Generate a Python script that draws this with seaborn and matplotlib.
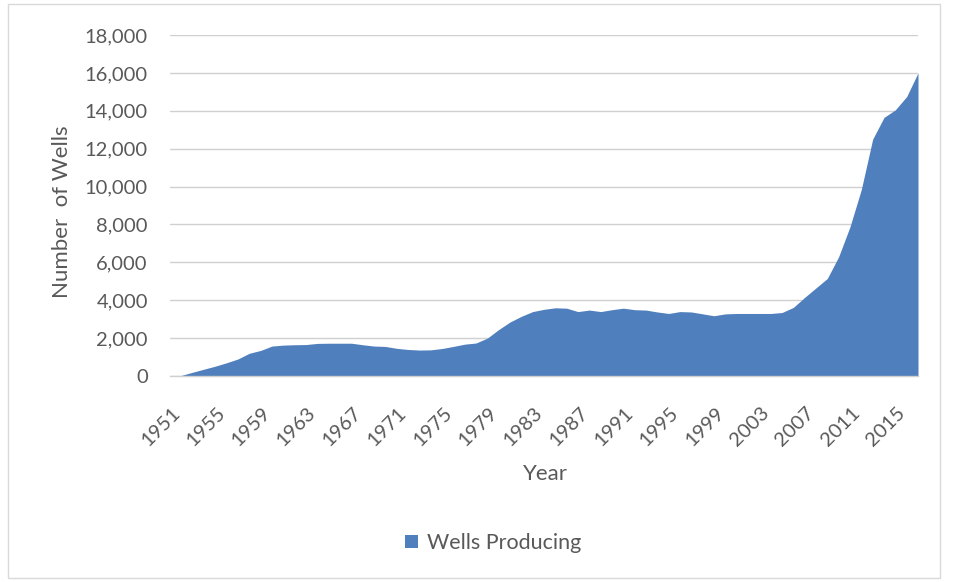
import matplotlib
matplotlib.use("Agg")
import matplotlib.pyplot as plt
from matplotlib.patches import Patch, Rectangle
from matplotlib.transforms import ScaledTranslation
from matplotlib.ticker import FuncFormatter
import seaborn as sns
import pandas as pd

# Producing wells per year
years = list(range(1951, 2018))
wells = [
    0, 30, 200, 360, 520, 700, 900, 1200, 1350, 1580,
    1630, 1650, 1660, 1720, 1730, 1730, 1730, 1650, 1580, 1560,
    1460, 1400, 1370, 1380, 1450, 1560, 1680, 1740, 2000, 2450,
    2850, 3150, 3400, 3520, 3600, 3580, 3400, 3480, 3400, 3500,
    3580, 3500, 3480, 3380, 3300, 3400, 3380, 3280, 3180, 3280,
    3300, 3300, 3300, 3300, 3350, 3620, 4150, 4650, 5150, 6300,
    7880, 9850, 12500, 13650, 14050, 14750, 16000,
]
tick_years = list(range(1951, 2018, 4))
y_ticks = list(range(0, 18001, 2000))

series_name = "Wells Producing"
fill_color = "#4f7fbd"
text_color = "#595959"

sns.set_theme(style="white")
plt.rcParams["font.family"] = ["Lato", "DejaVu Sans"]

df = pd.DataFrame({"Year": years, "Wells": wells})

fig = plt.figure(figsize=(9.56, 5.82), dpi=100)
ax = fig.add_axes([170 / 956, 1 - 376 / 582, (918 - 170) / 956, (376 - 35) / 582])

sns.lineplot(data=df, x="Year", y="Wells", ax=ax, color=fill_color, lw=0)
ax.fill_between(df["Year"], 0, df["Wells"], color=fill_color, lw=0, zorder=2)

ax.set_xlim(years[0], years[-1])
ax.set_ylim(0, 18000)
ax.set_yticks(y_ticks)
ax.yaxis.set_major_formatter(FuncFormatter(lambda v, p: f"{int(v):,}"))
ax.grid(axis="y", color="#d0d0d0", lw=1, zorder=0)
ax.grid(axis="x", visible=False)
ax.set_axisbelow(True)
for side in ["top", "right", "left"]:
    ax.spines[side].set_visible(False)
ax.spines["bottom"].set_color("#d0d0d0")
ax.spines["bottom"].set_linewidth(1)
ax.spines["bottom"].set_zorder(3)

ax.set_xticks(tick_years)
ax.set_xticklabels([str(y) for y in tick_years])
ax.tick_params(axis="x", length=0, pad=20, labelsize=14.5, labelcolor=text_color)
ax.tick_params(axis="y", length=0, pad=16, labelsize=14.5, labelcolor=text_color)
shift = ScaledTranslation(1 / 100, 0, fig.dpi_scale_trans)
for lab in ax.get_xticklabels():
    lab.set_rotation(45)
    lab.set_ha("right")
    lab.set_va("top")
    lab.set_rotation_mode("anchor")
    lab.set_transform(lab.get_transform() + shift)

ax.set_xlabel("")
ax.set_ylabel("")
fig.text(545 / 956, 1 - 474 / 582, "Year", ha="center", va="center",
         fontsize=16, color=text_color)
fig.text(62 / 956, 1 - 212 / 582, "Number  of Wells", ha="center", va="center",
         rotation=90, fontsize=16, color=text_color)

handle = Patch(facecolor=fill_color, edgecolor="none", label=series_name)
fig.legend(handles=[handle], loc="center", bbox_to_anchor=(493 / 956, 1 - 543 / 582),
           frameon=False, fontsize=15.5, labelcolor=text_color,
           handlelength=0.6, handleheight=0.6, handletextpad=0.4)

fig.patches.append(Rectangle((8 / 956, 4 / 582), (940 - 8) / 956, (578 - 4) / 582,
                             transform=fig.transFigure, fill=False,
                             edgecolor="#d9d9d9", lw=1))

fig.savefig("out.png", dpi=100, facecolor="white")
